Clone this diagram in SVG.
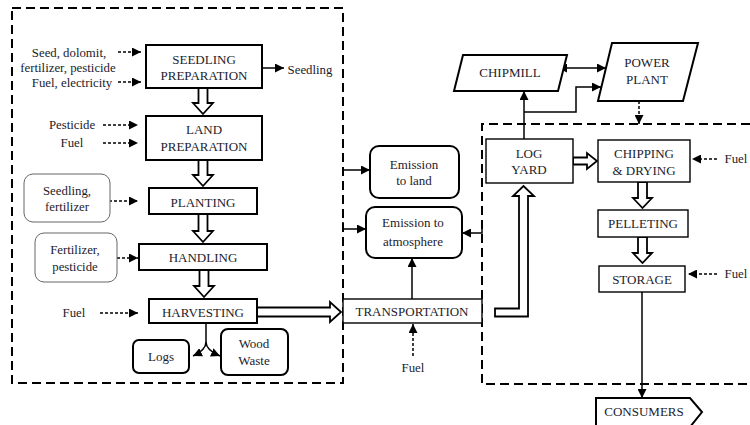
<svg xmlns="http://www.w3.org/2000/svg" width="750" height="425" viewBox="0 0 750 425">
<defs>
<marker id="ah" viewBox="0 0 10 10" refX="10" refY="5" markerWidth="9" markerHeight="9" markerUnits="userSpaceOnUse" orient="auto">
<path d="M0,0 L10,5 L0,10 z" fill="#000"/>
</marker>
<marker id="ahs" viewBox="0 0 10 10" refX="0" refY="5" markerWidth="9" markerHeight="9" markerUnits="userSpaceOnUse" orient="auto-start-reverse">
<path d="M0,0 L10,5 L0,10 z" fill="#000"/>
</marker>
</defs>
<style>
text{font-family:"Liberation Serif","Times New Roman",serif;font-size:13px;fill:#1c1c2c;text-anchor:middle}
.in{font-size:12.8px}
.box{fill:#fff;stroke:#000;stroke-width:2}
.tbox{fill:#fff;stroke:#000;stroke-width:1.4}
.rbox{fill:#fff;stroke:#000;stroke-width:2}
.gbox{fill:#fff;stroke:#666;stroke-width:1}
.hol{fill:#fff;stroke:#000;stroke-width:1.8;stroke-linejoin:miter}
.dash{fill:none;stroke:#000;stroke-width:2;stroke-dasharray:9 5}
.ln{fill:none;stroke:#000;stroke-width:1.5}
.dl{fill:none;stroke:#000;stroke-width:1.5;stroke-dasharray:3 2}
</style>
<rect width="750" height="425" fill="#fff"/>

<!-- dashed system boundaries -->
<rect class="dash" x="12" y="8" width="331" height="375"/>
<path class="dash" d="M750,124 H482 V384 H750"/>

<g id="connectors">
<line class="dl" x1="118" y1="52" x2="141" y2="52" marker-end="url(#ah)"/>
<line class="dl" x1="118" y1="82" x2="141" y2="82" marker-end="url(#ah)"/>
<line class="dl" x1="103" y1="125" x2="138" y2="125" marker-end="url(#ah)"/>
<line class="dl" x1="103" y1="143" x2="138" y2="143" marker-end="url(#ah)"/>
<line class="dl" x1="99" y1="201" x2="138" y2="201" marker-end="url(#ah)"/>
<line class="dl" x1="107" y1="258" x2="138" y2="258" marker-end="url(#ah)"/>
<line class="dl" x1="100" y1="313" x2="138" y2="313" marker-end="url(#ah)"/>
<line class="ln" x1="262" y1="68" x2="284" y2="68" marker-end="url(#ah)"/>
<polygon class="hol" points="198.5,88 207.5,88 207.5,103 213,103 203,114 193,103 198.5,103"/>
<polygon class="hol" points="198.5,160 207.5,160 207.5,175 213,175 203,186 193,175 198.5,175"/>
<polygon class="hol" points="198.5,214 207.5,214 207.5,231 213,231 203,242 193,231 198.5,231"/>
<polygon class="hol" points="199.5,270 208.5,270 208.5,286 214,286 204,297 194,286 199.5,286"/>
<polygon class="hol" points="257,307.5 330,307.5 330,302 341,312 330,322 330,316.5 257,316.5"/>
<path class="ln" d="M206,323 V342 Q206,350 193,356" marker-end="url(#ah)"/>
<path class="ln" d="M206,342 Q206,350 220,356" marker-end="url(#ah)"/>
<line class="ln" x1="343" y1="170" x2="370" y2="170" marker-end="url(#ah)"/>
<path class="ln" d="M343,222 V229 H366" marker-end="url(#ah)"/>
<path class="ln" d="M482,227 V233 H462" marker-end="url(#ah)"/>
<line class="ln" x1="412" y1="299" x2="412" y2="258" marker-end="url(#ah)"/>
<line class="dl" x1="413" y1="356" x2="413" y2="324" marker-end="url(#ah)"/>
<polygon class="hol" points="495,308.5 519,308.5 519,196 513,196 523.5,186 534,196 528,196 528,316.5 495,316.5"/>
<line class="ln" x1="524" y1="139" x2="524" y2="91" marker-end="url(#ah)"/>
<path class="ln" d="M524,112 H576 V87 H601" marker-end="url(#ah)"/>
<line class="ln" x1="567" y1="68" x2="606" y2="68" marker-start="url(#ahs)" marker-end="url(#ah)"/>
<line class="dl" x1="639" y1="101" x2="639" y2="124" marker-end="url(#ah)"/>
<polygon class="hol" points="573,157.5 587,157.5 587,153 597,161 587,169 587,164.5 573,164.5"/>
<polygon class="hol" points="638,182 647,182 647,198 652,198 642.5,208 633,198 638,198"/>
<polygon class="hol" points="638,237 647,237 647,253 652,253 642.5,263 633,253 638,253"/>
<line class="dl" x1="717" y1="159" x2="692" y2="159" marker-end="url(#ah)"/>
<line class="dl" x1="717" y1="274" x2="688" y2="274" marker-end="url(#ah)"/>
<line class="ln" x1="642" y1="292" x2="642" y2="398" marker-end="url(#ah)"/>
</g>

<g id="inputs">
<text class="in" x="69" y="57">Seed, dolomit,</text>
<text class="in" x="68" y="72">fertilizer, pesticide</text>
<text class="in" x="72" y="87">Fuel, electricity</text>
<text class="in" x="72" y="129">Pesticide</text>
<text class="in" x="72" y="147">Fuel</text>
<text class="in" x="74" y="317">Fuel</text>
<text class="in" x="310" y="74">Seedling</text>
<text class="in" x="413" y="372">Fuel</text>
<text class="in" x="736" y="163">Fuel</text>
<text class="in" x="736" y="278">Fuel</text>
</g>

<g id="seedling-fertilizer">
<rect class="gbox" x="24" y="174" width="86" height="48" rx="9"/>
<text class="in" x="67" y="195">Seedling,</text>
<text class="in" x="67" y="211">fertilizer</text>
</g>
<g id="fertilizer-pesticide">
<rect class="gbox" x="35" y="233" width="82" height="49" rx="9"/>
<text class="in" x="75" y="254">Fertilizer,</text>
<text class="in" x="75" y="271">pesticide</text>
</g>

<g id="seedling-preparation">
<rect class="box" x="146" y="45" width="116" height="43"/>
<text x="204" y="64">SEEDLING</text>
<text x="204" y="80">PREPARATION</text>
</g>
<g id="land-preparation">
<rect class="box" x="146" y="116" width="116" height="44"/>
<text x="204" y="134">LAND</text>
<text x="204" y="151">PREPARATION</text>
</g>
<g id="planting">
<rect class="box" x="149" y="188" width="108" height="26"/>
<text x="203" y="207">PLANTING</text>
</g>
<g id="handling">
<rect class="box" x="139" y="244" width="128" height="26"/>
<text x="203" y="262">HANDLING</text>
</g>
<g id="harvesting">
<rect class="box" x="149" y="299" width="108" height="24"/>
<text x="203" y="317">HARVESTING</text>
</g>
<g id="logs">
<rect class="rbox" x="133" y="340" width="56" height="33" rx="6"/>
<text x="161" y="361">Logs</text>
</g>
<g id="wood-waste">
<rect class="rbox" x="221" y="329" width="67" height="46" rx="7"/>
<text x="254" y="348">Wood</text>
<text x="254" y="365">Waste</text>
</g>

<g id="emission-land">
<rect class="rbox" x="370" y="146" width="89" height="52" rx="9"/>
<text x="414" y="169">Emission</text>
<text x="414" y="185">to land</text>
</g>
<g id="emission-atmosphere">
<rect class="rbox" x="366" y="207" width="96" height="51" rx="9"/>
<text x="413" y="227">Emission to</text>
<text x="413" y="246">atmosphere</text>
</g>
<g id="transportation">
<rect class="tbox" x="343" y="299" width="139" height="24"/>
<text x="412" y="316">TRANSPORTATION</text>
</g>

<g id="chipmill">
<polygon class="box" points="463,55 567,55 558,91 454,91"/>
<text x="510" y="77">CHIPMILL</text>
</g>
<g id="power-plant">
<polygon class="box" points="612,43 698,43 683,101 598,101"/>
<text x="647" y="67">POWER</text>
<text x="647" y="84">PLANT</text>
</g>
<g id="log-yard">
<rect class="tbox" x="486" y="139" width="87" height="44"/>
<text x="529" y="158">LOG</text>
<text x="529" y="174">YARD</text>
</g>
<g id="chipping-drying">
<rect class="tbox" x="598" y="140" width="92" height="42"/>
<text x="644" y="158">CHIPPING</text>
<text x="644" y="175">&amp; DRYING</text>
</g>
<g id="pelleting">
<rect class="tbox" x="598" y="210" width="90" height="27"/>
<text x="643" y="228">PELLETING</text>
</g>
<g id="storage">
<rect class="tbox" x="599" y="266" width="86" height="26"/>
<text x="642" y="284">STORAGE</text>
</g>
<g id="consumers">
<polygon class="box" points="596,398 690,398 702,412 690,427 596,427"/>
<text x="644" y="416">CONSUMERS</text>
</g>
</svg>
